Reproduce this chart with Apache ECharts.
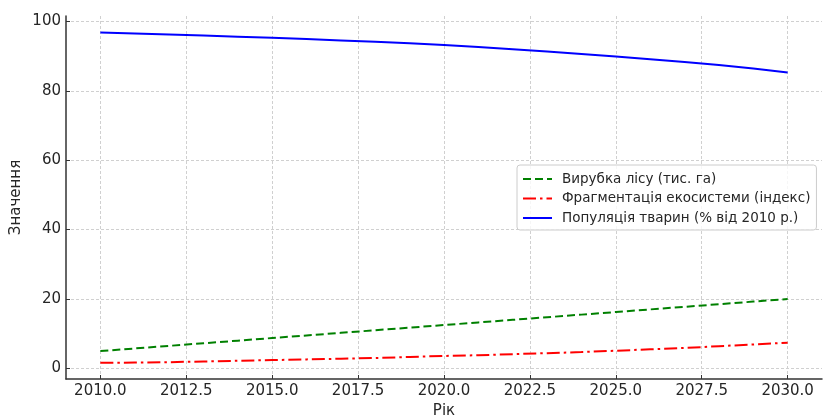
<!DOCTYPE html>
<html>
<head>
<meta charset="utf-8">
<script src="https://cdn.jsdelivr.net/npm/echarts@6/dist/echarts.min.js"></script>
<style>
  html, body { margin: 0; padding: 0; background: #fff; }
  #chart { width: 824px; height: 417px; }
</style>
</head>
<body>
<div id="chart"></div>
<script>
// yearly values
const years = [2010, 2011, 2012, 2013, 2014, 2015, 2016, 2017, 2018, 2019, 2020,
               2021, 2022, 2023, 2024, 2025, 2026, 2027, 2028, 2029, 2030];
const forestLoss = [5.0, 5.75, 6.5, 7.25, 8.0, 8.75, 9.5, 10.25, 11.0, 11.75, 12.5,
                    13.25, 14.0, 14.75, 15.5, 16.25, 17.0, 17.75, 18.5, 19.25, 20.0];
const fragmentation = [1.6, 1.7, 1.8, 2.0, 2.2, 2.4, 2.6, 2.8, 3.0, 3.3, 3.6,
                       3.8, 4.1, 4.4, 4.7, 5.1, 5.5, 5.9, 6.4, 6.9, 7.4];
const population = [96.8, 96.5, 96.2, 95.9, 95.6, 95.3, 94.9, 94.5, 94.1, 93.7, 93.2,
                    92.6, 92.0, 91.3, 90.6, 89.9, 89.1, 88.3, 87.4, 86.4, 85.3];
const seriesNames = ['Вирубка лісу (тис. га)', 'Фрагментація екосистеми (індекс)', 'Популяція тварин (% від 2010 р.)'];
const xTicks = [2010, 2012.5, 2015, 2017.5, 2020, 2022.5, 2025, 2027.5, 2030];
const yTicks = [0, 20, 40, 60, 80, 100];

const font = 'DejaVu Sans';
const pair = vals => years.map((y, i) => [y, vals[i]]);

const myChart = echarts.init(document.getElementById('chart'));

const gridLine = { show: true, lineStyle: { color: '#d0d0d0', type: [3, 2], width: 1 } };

const option = {
    animation: false,
    textStyle: { fontFamily: font },
    grid: { left: 66, right: 2, top: 16, bottom: 38, containLabel: false, outerBoundsMode: 'none' },
    xAxis: {
        type: 'value',
        min: 2009,
        max: 2031,
        name: 'Рік',
        nameLocation: 'middle',
        nameGap: 25,
        nameTextStyle: { fontSize: 15, color: '#262626', fontFamily: font },
        axisLine: { show: true, onZero: false, lineStyle: { color: '#333', width: 1.5 } },
        axisTick: { show: true, inside: true, length: 4, customValues: xTicks, lineStyle: { color: '#333' } },
        axisLabel: {
            customValues: xTicks,
            margin: 5,
            fontSize: 15,
            color: '#262626',
            fontFamily: font,
            formatter: v => v.toFixed(1)
        },
        splitLine: gridLine
    },
    yAxis: {
        type: 'value',
        min: -3.05,
        max: 101.55,
        name: 'Значення',
        nameLocation: 'middle',
        nameGap: 42,
        nameMoveOverlap: false,
        nameTextStyle: { fontSize: 15, color: '#262626', fontFamily: font },
        axisLine: { show: true, onZero: false, lineStyle: { color: '#333', width: 1.5 } },
        axisTick: { show: true, inside: true, length: 4, customValues: yTicks, lineStyle: { color: '#333' } },
        axisLabel: {
            customValues: yTicks,
            margin: 5,
            fontSize: 15,
            color: '#262626',
            fontFamily: font
        },
        splitLine: gridLine
    },
    legend: {
        orient: 'vertical',
        left: 517,
        top: 165,
        padding: [7, 6, 5, 5],
        itemWidth: 29,
        itemHeight: 12,
        itemGap: 5.5,
        borderColor: '#cccccc',
        borderWidth: 1,
        borderRadius: 3,
        backgroundColor: 'rgba(255,255,255,0.8)',
        itemStyle: { opacity: 0 },
        textStyle: { fontSize: 13.5, color: '#262626', fontFamily: font, padding: [0, 0, 0, 5] },
        data: seriesNames
    },
    series: [
        {
            name: seriesNames[0],
            type: 'line',
            data: pair(forestLoss),
            showSymbol: false,
            symbol: 'none',
            lineStyle: { color: '#008000', width: 2, type: [8, 4] },
            itemStyle: { color: '#008000' }
        },
        {
            name: seriesNames[1],
            type: 'line',
            data: pair(fragmentation),
            showSymbol: false,
            symbol: 'none',
            lineStyle: { color: '#ff0000', width: 2, type: [13, 4, 2.5, 4] },
            itemStyle: { color: '#ff0000' }
        },
        {
            name: seriesNames[2],
            type: 'line',
            data: pair(population),
            showSymbol: false,
            symbol: 'none',
            lineStyle: { color: '#0000ff', width: 2 },
            itemStyle: { color: '#0000ff' }
        }
    ]
};

myChart.setOption(option);
</script>
</body>
</html>
